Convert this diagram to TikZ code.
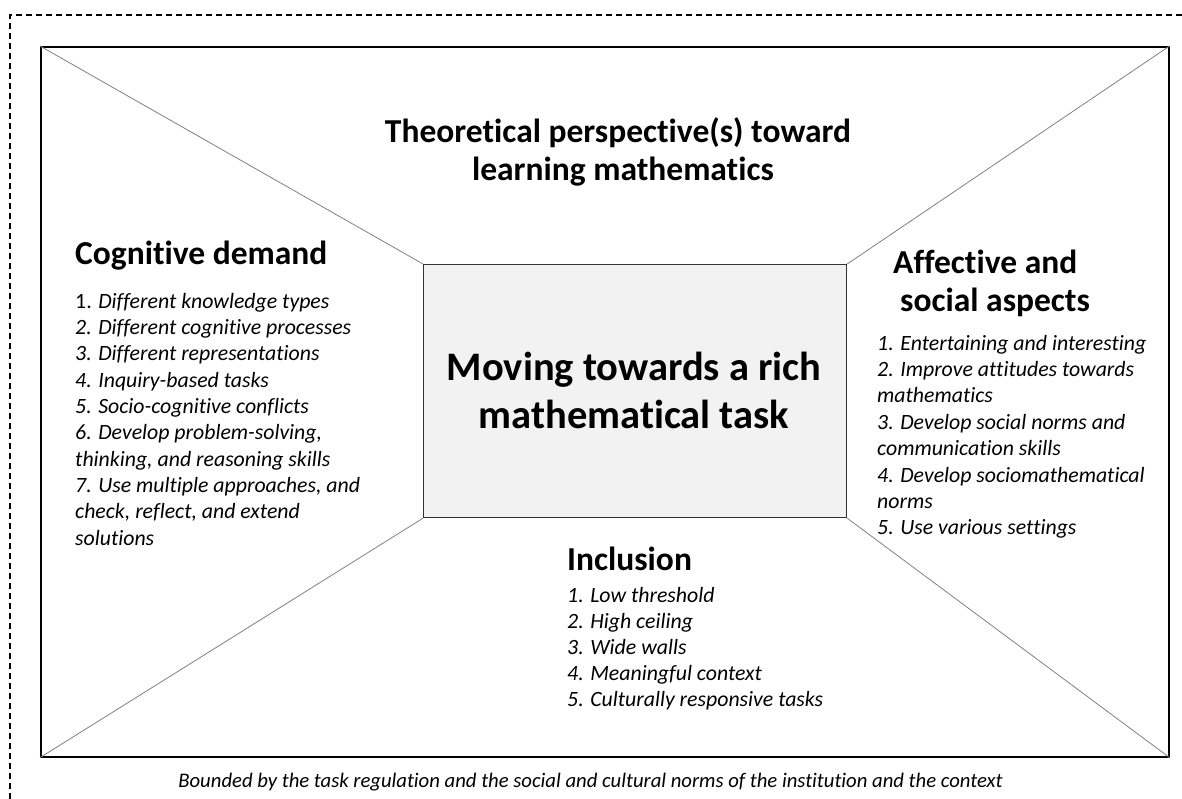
\documentclass[tikz,border=0pt]{standalone}
\usepackage{fontspec}
\setmainfont[Ligatures=NoCommon]{Carlito}
\begin{document}
\begin{tikzpicture}[x=1pt,y=-1pt,
  hd/.style={font=\bfseries\fontsize{33.5}{38}\selectfont, inner sep=0pt},
  big/.style={font=\bfseries\fontsize{40.5}{48}\selectfont, inner sep=0pt, anchor=base},
  li/.style={font=\itshape\fontsize{21.8}{26}\selectfont, inner sep=0pt, anchor=base west},
  captext/.style={font=\itshape\fontsize{20.7}{25}\selectfont, inner sep=0pt, anchor=base},
  diag/.style={draw=black!50, line width=0.8pt},
  frame/.style={draw=black, line width=1.6pt, inner sep=0pt, anchor=north west},
  taskbox/.style={draw=black!80, line width=1.2pt, fill=black!5, inner sep=0pt, anchor=north west},
  bound/.style={draw=black, line width=1.3pt, dash pattern=on 6pt off 4pt}]
\useasboundingbox (0,0) rectangle (1182,799);
% dashed boundary (top and left visible)
\coordinate (bTL) at (10,15);
\coordinate (bTR) at (1182,15);
\coordinate (bBL) at (10,799);
\draw[bound] (bTR) -- (bTL) -- (bBL);
% outer frame
\node[frame, minimum width=1128pt, minimum height=710pt] (outer) at (40,46) {};
% inner task box
\node[taskbox, minimum width=423pt, minimum height=253pt] (task) at (423,264) {};
% diagonals
\draw[diag] (outer.north west) -- (task.north west);
\draw[diag] (outer.north east) -- (task.north east);
\draw[diag] (outer.south west) -- (task.south west);
\draw[diag] (outer.south east) -- (task.south east);
% center text
\node[big] (m1) at (634,380) {Moving towards a rich};
\node[big] (m2) at (634,428) {mathematical task};
% top heading
\node[hd, anchor=base] (t1) at (618,143) {Theoretical perspective(s) toward};
\node[hd, anchor=base] (t2) at (623,181) {learning mathematics};
% cognitive demand
\node[hd, anchor=base west] (cg) at (75,265) {Cognitive demand};
\node[li] (c1) at (75,308.3) {\upshape 1. \itshape Different knowledge types};
\node[li] (c2) at (75,334.6) {2. Different cognitive processes};
\node[li] (c3) at (75,360.9) {3. Different representations};
\node[li] (c4) at (75,387.2) {4. Inquiry-based tasks};
\node[li] (c5) at (75,413.5) {5. Socio-cognitive conflicts};
\node[li] (c6) at (75,439.8) {6. Develop problem-solving,};
\node[li] (c7) at (75,466.1) {thinking, and reasoning skills};
\node[li] (c8) at (75,492.4) {7. Use multiple approaches, and};
\node[li] (c9) at (75,518.7) {check, reflect, and extend};
\node[li] (c10) at (75,545) {solutions};
% affective
\node[hd, anchor=base west] (af1) at (893,273.3) {Affective and};
\node[hd, anchor=base west] (af2) at (900,311.7) {social aspects};
\node[li] (a1) at (877,350) {1. Entertaining and interesting};
\node[li] (a2) at (877,376.4) {2. Improve attitudes towards};
\node[li] (a3) at (877,402.8) {mathematics};
\node[li] (a4) at (877,429.2) {3. Develop social norms and};
\node[li] (a5) at (877,455.6) {communication skills};
\node[li] (a6) at (877,482) {4. Develop sociomathematical};
\node[li] (a7) at (877,508.4) {norms};
\node[li] (a8) at (877,534.8) {5. Use various settings};
% inclusion
\node[hd, anchor=base west] (inc) at (567,570) {Inclusion};
\node[li] (i1) at (567,602.7) {1. Low threshold};
\node[li] (i2) at (567,628.7) {2. High ceiling};
\node[li] (i3) at (567,654.7) {3. Wide walls};
\node[li] (i4) at (567,680.7) {4. Meaningful context};
\node[li] (i5) at (567,706.7) {5. Culturally responsive tasks};
% caption
\node[captext] (capt) at (590.5,787) {Bounded by the task regulation and the social and cultural norms of the institution and the context};
\end{tikzpicture}
\end{document}
